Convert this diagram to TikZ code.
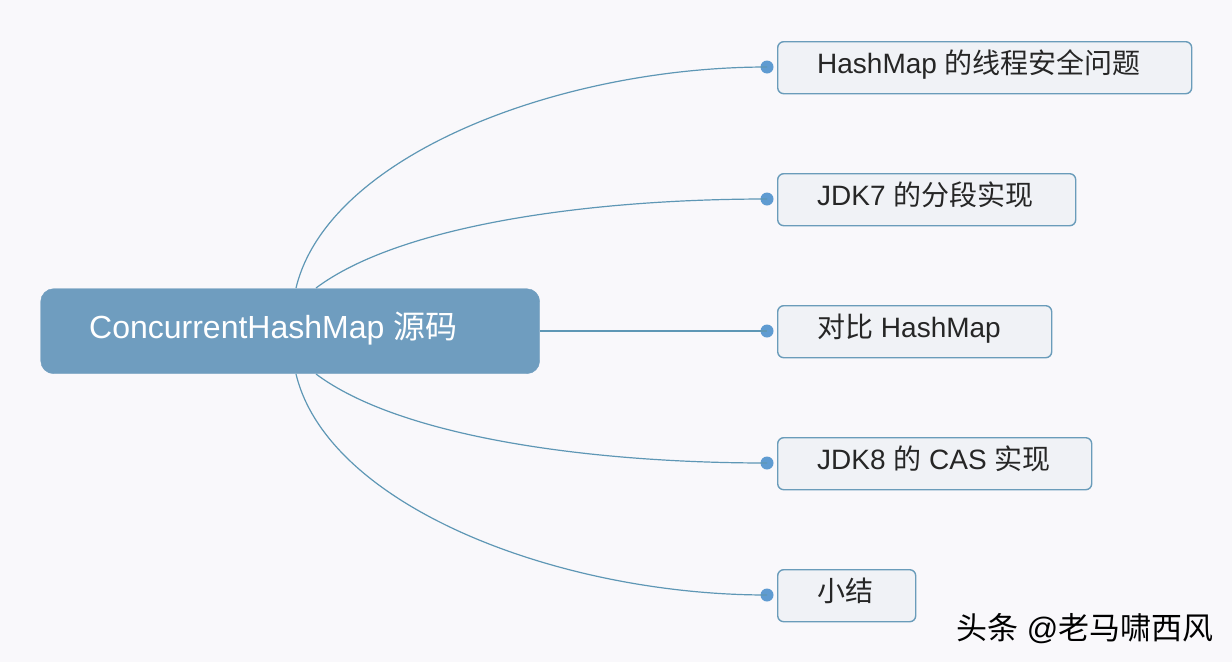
\documentclass[tikz,border=0pt]{standalone}
\usepackage{fontspec}
\setmainfont{Liberation Sans}
\newfontfamily\cjk{Noto Sans CJK SC}[Scale=1.0]
\definecolor{bgc}{HTML}{F9F8FB}
\definecolor{rootc}{HTML}{6F9DBF}
\definecolor{linec}{HTML}{5E97B5}
\definecolor{edgec}{HTML}{6A9CBA}
\definecolor{fillc}{HTML}{F0F2F6}
\definecolor{dotc}{HTML}{5F9BD1}
\tikzset{
  rootbox/.style={rectangle,rounded corners=13pt,fill=rootc,draw=rootc,inner sep=0pt,minimum width=499pt,minimum height=85pt,anchor=north west},
  leafbox/.style={rectangle,rounded corners=6pt,fill=fillc,draw=edgec,line width=1.4pt,inner sep=0pt,minimum height=52pt,anchor=north west},
  roottext/.style={text=white,font=\fontsize{32}{34}\selectfont,anchor=base west,inner sep=0pt},
  leaftext/.style={text=black!85,font=\fontsize{28}{30}\selectfont,anchor=base west,inner sep=0pt},
  marktext/.style={text=black,font=\fontsize{31}{33}\selectfont,anchor=base west,inner sep=0pt},
  conn/.style={draw=linec,line width=1.2pt},
  dotm/.style={circle,fill=dotc,inner sep=0pt,minimum size=13pt}
}
\begin{document}
\begin{tikzpicture}[x=1pt,y=-1pt]
\useasboundingbox[fill=bgc] (0,0) rectangle (1232,662);
\coordinate (a1) at (296,288);
\coordinate (a2) at (316,288);
\coordinate (a3) at (540,331);
\coordinate (a4) at (316,374);
\coordinate (a5) at (296,374);
\node[dotm] (d1) at (767,67) {};
\node[dotm] (d2) at (767,199) {};
\node[dotm] (d3) at (767,331) {};
\node[dotm] (d4) at (767,463) {};
\node[dotm] (d5) at (767,595) {};
\draw[conn] (a1) .. controls (328,155) and (560,67) .. (d1.center);
\draw[conn] (a2) .. controls (400,225) and (590,199) .. (d2.center);
\draw[conn] (a3) -- (d3.center);
\draw[conn] (a4) .. controls (400,437) and (590,463) .. (d4.center);
\draw[conn] (a5) .. controls (328,507) and (560,595) .. (d5.center);
\node[rootbox] (root) at (40.5,288.5) {};
\node[leafbox,minimum width=414pt] (n1) at (777,41) {};
\node[leafbox,minimum width=298pt] (n2) at (777,173) {};
\node[leafbox,minimum width=274pt] (n3) at (777,305) {};
\node[leafbox,minimum width=314pt] (n4) at (777,437) {};
\node[leafbox,minimum width=138pt] (n5) at (777,569) {};
\node[roottext] (t0) at (89,338) {ConcurrentHashMap {\cjk 源码}};
\node[leaftext] (t1) at (817,73.5) {HashMap {\cjk 的线程安全问题}};
\node[leaftext] (t2) at (817,205.5) {JDK7 {\cjk 的分段实现}};
\node[leaftext] (t3) at (817,337.5) {{\cjk 对比} HashMap};
\node[leaftext] (t4) at (817,469.5) {JDK8 {\cjk 的} CAS {\cjk 实现}};
\node[leaftext] (t5) at (817,601.5) {{\cjk 小结}};
\node[marktext] (w) at (956,639) {{\cjk 头条} @{\cjk 老马啸西风}};
\end{tikzpicture}
\end{document}
